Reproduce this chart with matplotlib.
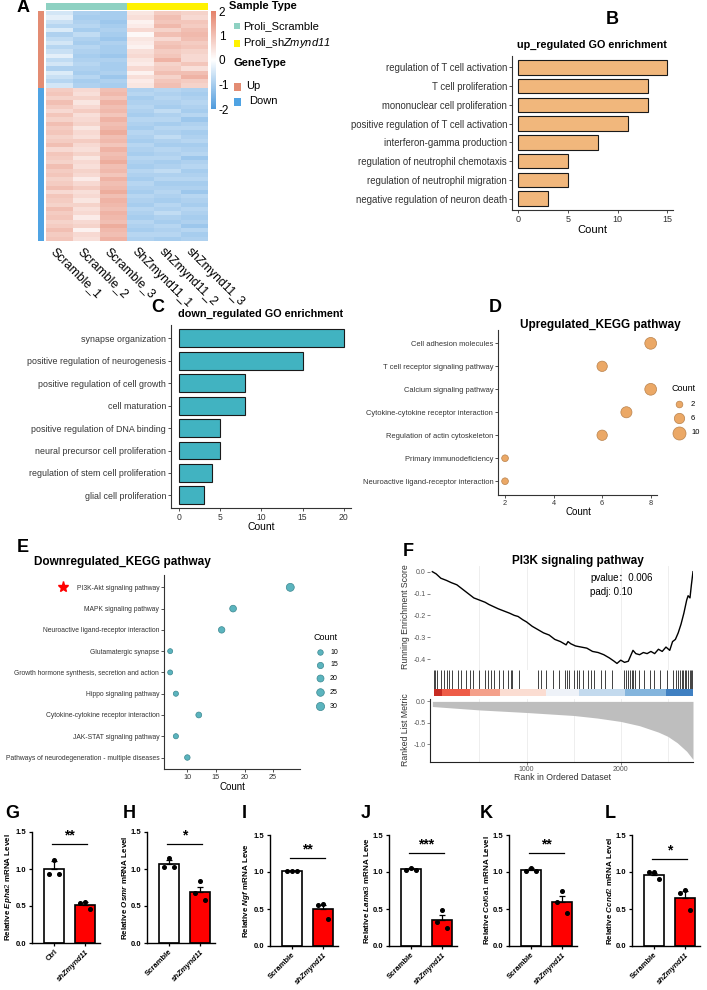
import numpy as np
import matplotlib
matplotlib.use('Agg')
import matplotlib.pyplot as plt
from matplotlib.colors import LinearSegmentedColormap, ListedColormap
from matplotlib.patches import Rectangle
from matplotlib.lines import Line2D

plt.rcParams['font.family'] = ['Liberation Sans', 'Noto Sans CJK SC', 'DejaVu Sans']
plt.rcParams['mathtext.fontset'] = 'custom'
plt.rcParams['mathtext.it'] = 'Liberation Sans:italic:bold'
plt.rcParams['mathtext.sf'] = 'Liberation Sans:italic'
plt.rcParams['mathtext.rm'] = 'Liberation Sans'

# ---------------- data ----------------
# A: heatmap (z-scores), up genes then down genes
hm_cols = ['Scramble_1', 'Scramble_2', 'Scramble_3', 'ShZmynd11_1', 'shZmynd11_2', 'shZmynd11_3']
up_rows = [
    [-0.5, -0.9, -1.0, 0.4, 0.8, 0.7],
    [-0.3, -1.0, -1.0, 0.5, 1.0, 0.6],
    [-0.6, -0.9, -1.1, 0.2, 0.9, 0.9],
    [-0.8, -0.8, -1.0, 0.3, 1.1, 0.8],
    [-0.4, -1.0, -0.9, 0.6, 0.7, 1.0],
    [-0.9, -0.7, -1.0, 0.1, 1.0, 1.1],
    [-0.7, -0.9, -1.1, 0.4, 0.6, 1.0],
    [-0.5, -1.0, -0.9, 0.3, 0.9, 0.8],
    [-0.8, -0.8, -1.0, 0.2, 1.0, 0.9],
    [-0.6, -0.9, -1.0, 0.5, 0.8, 0.7],
    [-0.3, -1.0, -1.1, 0.6, 0.9, 0.6],
    [-0.7, -0.9, -0.9, 0.4, 1.2, 0.6],
    [-0.5, -0.8, -1.0, 0.3, 0.7, 0.9],
    [-0.9, -0.9, -1.0, 0.6, 0.8, 0.5],
    [-0.4, -1.0, -0.9, 0.2, 1.0, 1.0],
    [-0.6, -0.8, -1.1, 0.5, 0.7, 1.2],
    [-0.8, -1.0, -0.9, 0.3, 0.9, 0.8],
    [-0.5, -0.9, -1.0, 0.4, 1.0, 0.7],
]
down_rows = [
    [0.8, 0.6, 1.0, -0.9, -0.8, -0.9],
    [0.9, 0.5, 1.1, -0.8, -0.9, -1.0],
    [0.7, 0.7, 0.9, -1.0, -0.8, -0.9],
    [1.0, 0.4, 1.2, -0.9, -0.9, -0.8],
    [0.8, 0.6, 1.0, -0.8, -1.0, -0.9],
    [0.6, 0.8, 1.1, -0.9, -0.7, -1.0],
    [0.9, 0.5, 0.9, -1.0, -0.9, -0.8],
    [0.7, 0.6, 1.2, -0.8, -0.8, -1.1],
    [1.0, 0.7, 1.0, -0.9, -1.0, -0.9],
    [0.8, 0.4, 1.1, -1.0, -0.8, -0.8],
    [0.9, 0.6, 1.3, -0.8, -0.9, -1.0],
    [0.7, 0.5, 1.0, -0.9, -0.7, -0.9],
    [0.8, 0.8, 1.1, -1.0, -0.9, -0.8],
    [1.0, 0.6, 0.9, -0.8, -1.0, -1.0],
    [0.6, 0.5, 1.2, -0.9, -0.8, -0.9],
    [0.9, 0.7, 1.0, -1.0, -0.9, -0.8],
    [0.8, 0.4, 1.1, -0.8, -0.8, -1.1],
    [0.7, 0.6, 1.3, -0.9, -1.0, -0.9],
    [1.0, 0.5, 1.0, -1.0, -0.9, -0.8],
    [0.8, 0.7, 1.1, -0.8, -0.7, -1.0],
    [0.9, 0.6, 0.9, -0.9, -0.9, -0.9],
    [0.7, 0.3, 1.2, -1.0, -0.8, -0.8],
    [0.8, 0.6, 1.0, -0.8, -1.0, -1.0],
    [1.0, 0.8, 1.1, -0.9, -0.9, -0.9],
    [0.6, 0.5, 1.3, -1.0, -0.8, -1.1],
    [0.9, 0.6, 1.0, -0.8, -0.9, -0.8],
    [0.8, 0.4, 1.2, -0.9, -1.0, -0.9],
    [0.7, 0.7, 1.1, -1.0, -0.8, -1.0],
    [1.0, 0.5, 1.0, -0.8, -0.9, -0.8],
    [0.8, 0.6, 1.2, -0.9, -0.7, -0.9],
    [0.9, 0.3, 1.1, -1.0, -0.9, -1.0],
    [0.7, 0.6, 1.0, -0.8, -1.0, -0.9],
    [0.8, 0.7, 1.3, -0.9, -0.8, -1.1],
    [1.0, 0.2, 1.1, -1.0, -0.9, -0.8],
    [0.8, 0.6, 1.0, -0.8, -0.8, -1.0],
    [0.9, 0.5, 1.2, -0.9, -1.0, -0.9],
]
sample_group = [0, 0, 0, 1, 1, 1]
cbar_ticks = [2, 1, 0, -1, -2]

# B: up-regulated GO
go_up_terms = ['regulation of T cell activation', 'T cell proliferation',
               'mononuclear cell proliferation', 'positive regulation of T cell activation',
               'interferon-gamma production', 'regulation of neutrophil chemotaxis',
               'regulation of neutrophil migration', 'negative regulation of neuron death']
go_up_count = [15, 13, 13, 11, 8, 5, 5, 3]

# C: down-regulated GO
go_down_terms = ['synapse organization', 'positive regulation of neurogenesis',
                 'positive regulation of cell growth', 'cell maturation',
                 'positive regulation of DNA binding', 'neural precursor cell proliferation',
                 'regulation of stem cell proliferation', 'glial cell proliferation']
go_down_count = [20, 15, 8, 8, 5, 5, 4, 3]

# D: up KEGG
kegg_up_terms = ['Cell adhesion molecules', 'T cell receptor signaling pathway',
                 'Calcium signaling pathway', 'Cytokine-cytokine receptor interaction',
                 'Regulation of actin cytoskeleton', 'Primary immunodeficiency',
                 'Neuroactive ligand-receptor interaction']
kegg_up_count = [8, 6, 8, 7, 6, 2, 2]
kegg_up_legend = [2, 6, 10]

# E: down KEGG
kegg_down_terms = ['PI3K-Akt signaling pathway', 'MAPK signaling pathway',
                   'Neuroactive ligand-receptor interaction', 'Glutamatergic synapse',
                   'Growth hormone synthesis, secretion and action', 'Hippo signaling pathway',
                   'Cytokine-cytokine receptor interaction', 'JAK-STAT signaling pathway',
                   'Pathways of neurodegeneration - multiple diseases']
kegg_down_count = [28, 18, 16, 7, 7, 8, 12, 8, 10]
kegg_down_legend = [10, 15, 20, 25, 30]

# F: GSEA
es_rank = [0, 40, 90, 150, 200, 260, 320, 380, 440, 500, 560, 600, 650, 700, 760, 820,
           870, 910, 960, 1000, 1060, 1120, 1180, 1240, 1300, 1360, 1420, 1440, 1470, 1520,
           1580, 1640, 1700, 1760, 1820, 1880, 1930, 1960, 2000, 2040, 2080, 2110, 2130,
           2160, 2200, 2240, 2280, 2320, 2360, 2400, 2440, 2480, 2520, 2550, 2580, 2610,
           2640, 2670, 2700, 2715, 2735, 2750, 2767]
es_value = [0.0, -0.01, -0.03, -0.04, -0.05, -0.06, -0.08, -0.10, -0.12, -0.13, -0.14,
            -0.15, -0.16, -0.17, -0.18, -0.19, -0.20, -0.205, -0.22, -0.23, -0.25, -0.265,
            -0.28, -0.29, -0.31, -0.32, -0.335, -0.32, -0.33, -0.34, -0.345, -0.35, -0.365,
            -0.37, -0.38, -0.395, -0.41, -0.42, -0.405, -0.415, -0.41, -0.38, -0.36, -0.375,
            -0.38, -0.37, -0.375, -0.365, -0.375, -0.355, -0.365, -0.345, -0.36, -0.32,
            -0.31, -0.28, -0.24, -0.19, -0.13, -0.11, -0.12, -0.06, 0.0]
hit_ranks = [0, 5, 30, 75, 100, 135, 160, 185, 255, 290, 335, 380, 415, 475, 540, 570,
             605, 640, 690, 735, 790, 815, 835, 910, 1105, 1140, 1195, 1265, 1335, 1395,
             1415, 1440, 1495, 1530, 1550, 1585, 1640, 1675, 1710, 1785, 1830, 1900, 2025,
             2055, 2070, 2095, 2115, 2130, 2150, 2185, 2240, 2310, 2345, 2415, 2485, 2555,
             2590, 2610, 2625, 2645, 2660, 2680, 2695, 2715, 2730, 2750, 2760]
band_edges = [0, 80, 380, 700, 1195, 1548, 2042, 2477, 2767]
band_colors = ['#C62B22', '#EE5C47', '#F4A08A', '#FBDDD2', '#EEF2F8', '#C3DAEE', '#84B5DD', '#3F80C2']
metric_rank = [0, 500, 1000, 1500, 1750, 2000, 2200, 2400, 2500, 2600, 2700, 2767]
metric_value = [-0.12, -0.20, -0.26, -0.33, -0.39, -0.47, -0.57, -0.72, -0.82, -0.97, -1.17, -1.36]

# G-L: qPCR
qpcr_letters = ['G', 'H', 'I', 'J', 'K', 'L']
qpcr_genes = ['Epha2', 'Osmr', 'Ngf', 'Lama3', 'Col6a1', 'Ccnd2']
qpcr_label_end = ['Level', 'Level', 'Leve', 'Leve', 'Level', 'Level']
qpcr_ctrl_names = ['Ctrl', 'Scramble', 'Scramble', 'Scramble', 'Scramble', 'Scramble']
qpcr_mean = [[1.00, 0.51], [1.07, 0.69], [1.01, 0.50], [1.04, 0.35], [1.03, 0.59], [0.96, 0.65]]
qpcr_sem = [[0.11, 0.04], [0.05, 0.07], [0.005, 0.06], [0.01, 0.07], [0.02, 0.08], [0.03, 0.09]]
qpcr_points = [
    [[1.12, 0.93, 0.93], [0.55, 0.54, 0.46]],
    [[1.15, 1.03, 1.03], [0.84, 0.68, 0.58]],
    [[1.01, 1.01, 1.02], [0.57, 0.56, 0.37]],
    [[1.06, 1.03, 1.03], [0.48, 0.33, 0.25]],
    [[1.06, 1.01, 1.02], [0.74, 0.60, 0.45]],
    [[1.00, 1.00, 0.90], [0.76, 0.71, 0.48]],
]
qpcr_sig = ['**', '*', '**', '***', '**', '*']
qpcr_sig_y = [1.34, 1.34, 1.19, 1.26, 1.26, 1.18]

# ---------------- layout helpers (pixel boxes) ----------------
W, H = 707, 990
fig = plt.figure(figsize=(W / 100, H / 100), dpi=100)


def box(x0, y0, x1, y1):
    return fig.add_axes([x0 / W, 1 - y1 / H, (x1 - x0) / W, (y1 - y0) / H])


def ftext(x, y, s, **kw):
    fig.text(x / W, 1 - y / H, s, **kw)


def frect(x0, y0, x1, y1, c):
    fig.add_artist(Rectangle((x0 / W, 1 - y1 / H), (x1 - x0) / W, (y1 - y0) / H,
                             transform=fig.transFigure, facecolor=c, edgecolor='none'))


def fdot(x, y, ms, fc, ec):
    fig.add_artist(Line2D([x / W], [1 - y / H], marker='o', markersize=ms, markerfacecolor=fc,
                          markeredgecolor=ec, markeredgewidth=0.5, linestyle='none',
                          transform=fig.transFigure))


def letter(x, y, s):
    ftext(x, y, s, fontsize=13, fontweight='bold', ha='left', va='center')


def gg_axes(ax):
    for s in ['top', 'right']:
        ax.spines[s].set_visible(False)
    for s in ['left', 'bottom']:
        ax.spines[s].set_color('#333333')
        ax.spines[s].set_linewidth(0.8)
    ax.tick_params(length=2, width=0.6, colors='#333333', pad=1.5)


# ---------------- A heatmap ----------------
teal, yellow = '#8ED1C2', '#FFF200'
up_col, down_col = '#E38C73', '#4FA3E3'
hm_cmap = LinearSegmentedColormap.from_list('hm', ['#4F9BDD', '#FFFFFF', '#E5826A'])
hm = np.array(up_rows + down_rows)

ax = box(46, 11, 208, 241)
im = ax.imshow(hm, cmap=hm_cmap, vmin=-2, vmax=2, aspect='auto', interpolation='nearest')
ax.set_yticks([])
# labels start a little left of each column centre
ax.set_xticks(np.arange(len(hm_cols)) - 0.25)
ax.set_xticklabels(hm_cols, rotation=-45, ha='left', va='center', rotation_mode='anchor', fontsize=8.8)
ax.tick_params(axis='x', length=0, pad=6)
for s in ax.spines.values():
    s.set_visible(False)

ax = box(46, 3, 208, 10)
ax.imshow([sample_group], cmap=ListedColormap([teal, yellow]), aspect='auto', interpolation='nearest')
ax.axis('off')

ax = box(38, 11, 44, 241)
ax.imshow([[0]] * len(up_rows) + [[1]] * len(down_rows), cmap=ListedColormap([up_col, down_col]),
          aspect='auto', interpolation='nearest')
ax.axis('off')

cax = box(211, 11, 216, 109)
cb = fig.colorbar(im, cax=cax, ticks=cbar_ticks)
cb.ax.set_yticklabels([str(t) for t in cbar_ticks])
cb.outline.set_visible(False)
cax.tick_params(length=0, labelsize=8.5, pad=2)

ftext(229, 6, 'Sample Type', fontsize=8, fontweight='bold', va='center')
frect(234, 23, 240, 29, teal)
ftext(243, 26, 'Proli_Scramble', fontsize=8, va='center')
frect(234, 40, 240, 47, yellow)
ftext(243, 43, r'Proli_sh$\mathsf{Zmynd11}$', fontsize=8, va='center')
ftext(233, 63, 'GeneType', fontsize=8, fontweight='bold', va='center')
frect(234, 83, 241, 91, up_col)
ftext(246, 86, 'Up', fontsize=8, va='center')
frect(234, 98, 241, 106, down_col)
ftext(249, 101, 'Down', fontsize=8, va='center')
letter(17, 8, 'A')

# ---------------- B up GO ----------------
ax = box(512, 56, 673, 210)
ax.barh(range(len(go_up_terms)), go_up_count, height=0.78, color='#F1B77C', edgecolor='#1A1A1A', linewidth=0.8)
ax.set_yticks(range(len(go_up_terms)))
ax.set_yticklabels(go_up_terms, fontsize=6.9)
ax.set_ylim(len(go_up_terms) - 0.4, -0.6)
ax.set_xlim(-0.64, 15.56)
ax.set_xticks([0, 5, 10, 15])
ax.tick_params(axis='x', labelsize=6.5)
gg_axes(ax)
ftext(592, 45, 'up_regulated GO enrichment', fontsize=7.8, fontweight='bold', ha='center', va='center')
ftext(592, 230, 'Count', fontsize=8, ha='center', va='center')
letter(606, 20, 'B')

# ---------------- C down GO ----------------
ax = box(171, 325, 351, 508)
ax.barh(range(len(go_down_terms)), go_down_count, height=0.8, color='#41B3C1', edgecolor='#1A1A1A', linewidth=0.8)
ax.set_yticks(range(len(go_down_terms)))
ax.set_yticklabels(go_down_terms, fontsize=6.4)
ax.set_ylim(len(go_down_terms) - 0.44, -0.59)
ax.set_xlim(-1.0, 20.9)
ax.set_xticks([0, 5, 10, 15, 20])
ax.tick_params(axis='x', labelsize=6.2)
gg_axes(ax)
ftext(261, 314, 'down_regulated GO enrichment', fontsize=7.8, fontweight='bold', ha='center', va='center')
ftext(261, 527, 'Count', fontsize=7.5, ha='center', va='center')
letter(151, 308, 'C')

# ---------------- D up KEGG ----------------
def size_d(c):
    return 7 + 8.1 * np.asarray(c, dtype=float)


ax = box(498, 330, 657, 495)
ax.scatter(kegg_up_count, range(len(kegg_up_terms)), s=size_d(kegg_up_count), c='#EBA866',
           edgecolors='#B9824C', linewidths=0.5, zorder=3)
ax.set_yticks(range(len(kegg_up_terms)))
ax.set_yticklabels(kegg_up_terms, fontsize=5.4)
ax.set_ylim(len(kegg_up_terms) - 0.4, -0.58)
ax.set_xlim(1.71, 8.26)
ax.set_xticks([2, 4, 6, 8])
ax.tick_params(axis='x', labelsize=5.3)
gg_axes(ax)
ftext(600, 325, 'Upregulated_KEGG pathway', fontsize=8.5, fontweight='bold', ha='center', va='center')
ftext(578, 512, 'Count', fontsize=7, ha='center', va='center')
ftext(672, 388, 'Count', fontsize=6.5, ha='left', va='center')
for c, yy in zip(kegg_up_legend, [404, 418, 433]):
    fdot(679, yy, np.sqrt(size_d(c)), '#EBA866', '#B9824C')
    ftext(691, yy, str(c), fontsize=5.5, ha='left', va='center')
letter(489, 308, 'D')

# ---------------- E down KEGG ----------------
def size_e(c):
    return 6.3 + 0.95 * np.asarray(c, dtype=float)


ax = box(164, 575, 300, 769)
ax.scatter(kegg_down_count, range(len(kegg_down_terms)), s=size_e(kegg_down_count), c='#5BB4BE',
           edgecolors='#3C8890', linewidths=0.5, zorder=3)
ax.set_yticks(range(len(kegg_down_terms)))
ax.set_yticklabels(kegg_down_terms, fontsize=4.9)
ax.set_ylim(len(kegg_down_terms) - 0.46, -0.58)
ax.set_xlim(5.92, 29.7)
ax.set_xticks([10, 15, 20, 25])
ax.tick_params(axis='x', labelsize=5.2)
gg_axes(ax)
ftext(122, 562, 'Downregulated_KEGG pathway', fontsize=8.5, fontweight='bold', ha='center', va='center')
ftext(232, 787, 'Count', fontsize=7, ha='center', va='center')
ftext(313, 637, 'Count', fontsize=6.5, ha='left', va='center')
for c, yy in zip(kegg_down_legend, [652, 665, 678, 692, 706]):
    fdot(320, yy, np.sqrt(size_e(c)), '#5BB4BE', '#3C8890')
    ftext(330, yy, str(c), fontsize=5, ha='left', va='center')
fig.add_artist(Line2D([63 / W], [1 - 587 / H], marker='*', color='red', markersize=8,
                      linestyle='none', transform=fig.transFigure))
letter(17, 547, 'E')

# ---------------- F GSEA ----------------
xl = (-25, 2767)
grid_x = [500, 1000, 1500, 2000, 2500]

ax = box(430, 566, 693, 670)
ax.plot(es_rank, es_value, color='black', lw=1.0)
ax.set_xlim(*xl)
ax.set_ylim(-0.45, 0.026)
ax.set_yticks([0.0, -0.1, -0.2, -0.3, -0.4])
ax.set_yticklabels(['0.0', '-0.1', '-0.2', '-0.3', '-0.4'])
ax.set_xticks([])
for gx in grid_x:
    ax.axvline(gx, color='#EBEBEB', lw=0.6, zorder=0)
for s in ax.spines.values():
    s.set_visible(False)
ax.tick_params(axis='y', length=2, width=0.5, labelsize=5, colors='#555555', pad=1)

ax = box(432, 670, 693, 689)
ax.vlines(hit_ranks, 0, 1, color='#222222', lw=0.6)
ax.set_xlim(*xl)
ax.set_ylim(0, 1)
ax.axis('off')

ax = box(432, 689, 693, 696)
for i, col in enumerate(band_colors):
    ax.axvspan(band_edges[i], band_edges[i + 1], color=col, lw=0)
ax.set_xlim(*xl)
ax.axis('off')

ax = box(430, 699, 693, 762)
ax.fill_between(metric_rank, 0, metric_value, color='#BEBEBE', lw=0)
ax.set_xlim(*xl)
ax.set_ylim(-1.42, 0.056)
ax.set_yticks([0.0, -0.5, -1.0])
ax.set_yticklabels(['0.0', '-0.5', '-1.0'])
ax.set_xticks([1000, 2000])
for gx in grid_x:
    ax.axvline(gx, color='#EBEBEB', lw=0.6, zorder=0)
for s in ['top', 'right']:
    ax.spines[s].set_visible(False)
for s in ['left', 'bottom']:
    ax.spines[s].set_color('#222222')
    ax.spines[s].set_linewidth(0.8)
ax.tick_params(length=2, width=0.5, labelsize=5, colors='#555555', pad=1)

ftext(578, 561, 'PI3K signaling pathway', fontsize=8.5, fontweight='bold', ha='center', va='center')
ftext(590, 578, 'pvalue：0.006', fontsize=7, ha='left', va='center')
ftext(590, 592, 'padj: 0.10', fontsize=7, ha='left', va='center')
ftext(406, 617, 'Running Enrichment Score', fontsize=6.3, rotation=90, ha='center', va='center', color='#333333')
ftext(406, 730, 'Ranked List Metric', fontsize=6.3, rotation=90, ha='center', va='center', color='#333333')
ftext(562, 778, 'Rank in Ordered Dataset', fontsize=6.3, ha='center', va='center', color='#333333')
letter(403, 551, 'F')

# ---------------- G-L qPCR bars ----------------
spine_x = [32, 147, 270, 389, 509, 632]
letter_x = [5, 123, 242, 361, 480, 605]
top_y = [832, 832, 835, 835, 835, 835]
bot_y = [943, 943, 946, 946, 946, 946]
jitter = [-0.15, 0.0, 0.15]

for k in range(6):
    ax = box(spine_x[k], top_y[k], spine_x[k] + 68, bot_y[k])
    ax.bar([0, 1], qpcr_mean[k], width=0.65, color=['white', '#FF0000'], edgecolor='black', linewidth=1.2, zorder=2)
    for i in range(2):
        ax.errorbar(i, qpcr_mean[k][i], yerr=[[0], [qpcr_sem[k][i]]], color='black', capsize=2.5,
                    elinewidth=0.9, capthick=0.9, zorder=3)
        pts = qpcr_points[k][i]
        order = np.argsort(pts)[::-1]
        for j, idx in enumerate(order):
            ax.plot(i + jitter[[1, 0, 2][j]], pts[idx], 'o', color='black', ms=2.6, zorder=4)
    ax.plot([-0.05, 1.05], [qpcr_sig_y[k]] * 2, color='black', lw=0.9)
    ax.text(0.5, qpcr_sig_y[k] + 0.02, qpcr_sig[k], ha='center', va='bottom', fontsize=10, fontweight='bold')
    ax.set_xlim(-0.71, 1.48)
    ax.set_ylim(0, 1.5)
    ax.set_yticks([0.0, 0.5, 1.0, 1.5])
    ax.set_yticklabels(['0.0', '0.5', '1.0', '1.5'], fontweight='bold')
    ax.set_xticks([0, 1])
    xt = ax.set_xticklabels([qpcr_ctrl_names[k], 'shZmynd11'], rotation=45, ha='right',
                            rotation_mode='anchor', fontweight='bold')
    xt[1].set_fontstyle('italic')
    for s in ['top', 'right']:
        ax.spines[s].set_visible(False)
    for s in ['left', 'bottom']:
        ax.spines[s].set_linewidth(1.0)
    ax.tick_params(length=2.5, width=0.9, labelsize=5.5, pad=1.5)
    ax.set_ylabel(r'Relative $\mathit{%s}$ mRNA %s' % (qpcr_genes[k], qpcr_label_end[k]),
                  fontsize=5.8, fontweight='bold', labelpad=1.5)
    ax.patch.set_alpha(0)
    letter(letter_x[k], 814, qpcr_letters[k])

fig.savefig('out.png', dpi=100)
